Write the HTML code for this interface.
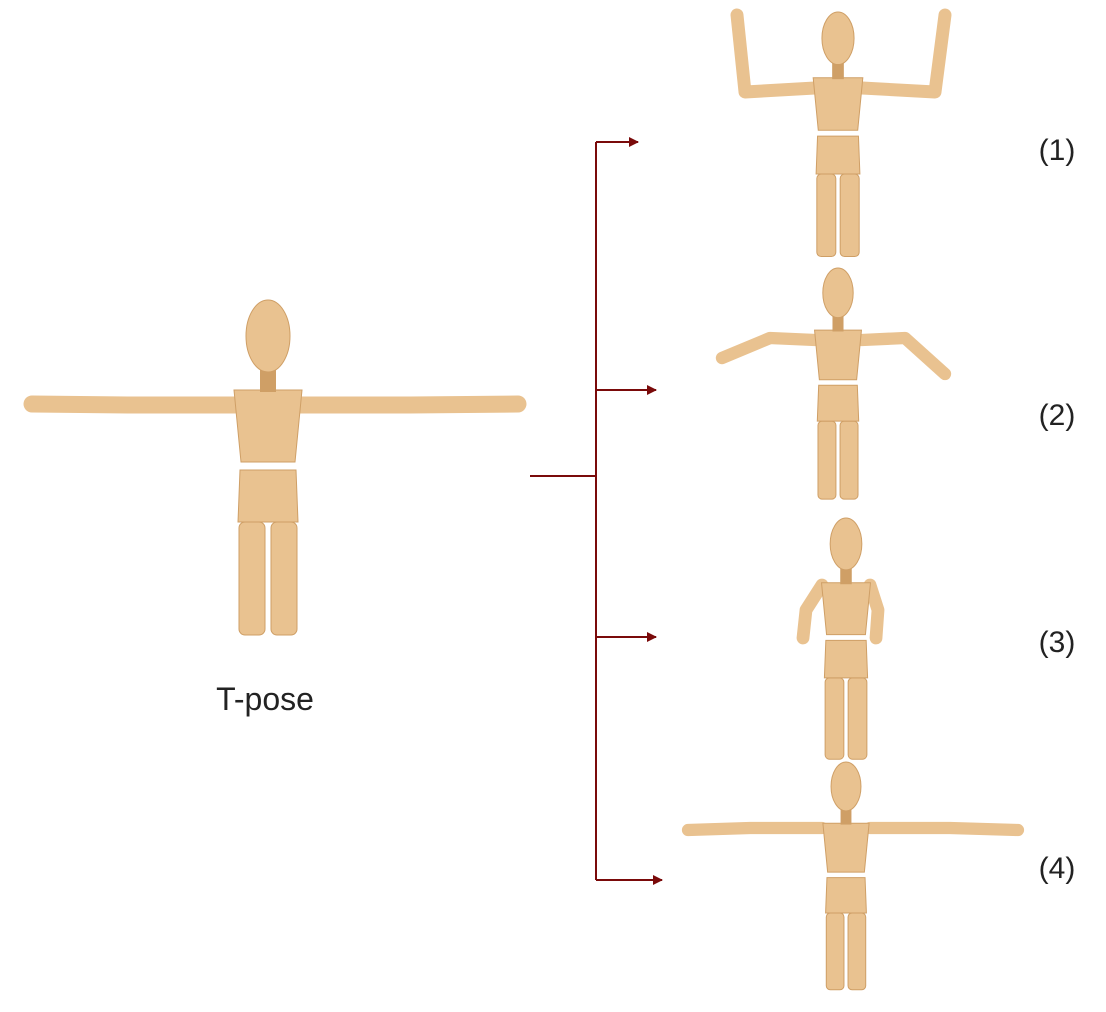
<!DOCTYPE html>
<html><head><meta charset="utf-8"><style>
html,body{margin:0;padding:0;background:#fff;}
svg{display:block;}
text{font-family:"Liberation Sans",sans-serif;fill:#222;}
</style></head><body>
<svg id="s" width="1106" height="1012" viewBox="0 0 1106 1012">
<defs>
<marker id="ah" markerWidth="10" markerHeight="10" refX="9" refY="5" orient="auto" markerUnits="userSpaceOnUse">
<path d="M0,0 L10,5 L0,10 z" fill="#7a0a0a"/></marker>
</defs>
<g stroke="#7a0a0a" stroke-width="2" fill="none">
<line x1="530" y1="476" x2="596" y2="476"/>
<line x1="596" y1="142" x2="596" y2="880"/>
<line x1="596" y1="142" x2="638" y2="142" marker-end="url(#ah)"/>
<line x1="596" y1="390" x2="656" y2="390" marker-end="url(#ah)"/>
<line x1="596" y1="637" x2="656" y2="637" marker-end="url(#ah)"/>
<line x1="596" y1="880" x2="662" y2="880" marker-end="url(#ah)"/>
</g>
<text x="265" y="710" font-size="32" text-anchor="middle">T-pose</text>
<text x="1057" y="160" font-size="30" text-anchor="middle">(1)</text>
<text x="1057" y="425" font-size="30" text-anchor="middle">(2)</text>
<text x="1057" y="652" font-size="30" text-anchor="middle">(3)</text>
<text x="1057" y="878" font-size="30" text-anchor="middle">(4)</text>
<g id="figs"></g>
</svg>
<script>
const NS="http://www.w3.org/2000/svg";
const figs=document.getElementById('figs');
function mk(tag,attrs,parent){const e=document.createElementNS(NS,tag);for(const k in attrs)e.setAttribute(k,attrs[k]);parent.appendChild(e);return e;}
const FILL="#e9c290",DARK="#cf9f66";
function figure(name,cx,top,s,arms){
  const g=mk('g',{},figs);
  
  
  const X=v=>cx+v*s, Y=v=>top+v*s;
  arms.forEach(a=>{
    const p=mk('polyline',{points:a.map(q=>q.join(',')).join(' '),fill:'none',stroke:FILL,'stroke-width':15*s+2,'stroke-linecap':'round','stroke-linejoin':'round'},g);
    
    
  });
  // legs
  [-16,16].forEach(o=>{
    const l=mk('rect',{x:X(o-13),y:Y(222),width:26*s,height:113*s,rx:6*s,fill:FILL,stroke:DARK,'stroke-width':1},g);
    
    
  });
  const pel=mk('path',{d:`M${X(-28)},${Y(170)} L${X(28)},${Y(170)} L${X(30)},${Y(222)} L${X(-30)},${Y(222)} Z`,fill:FILL,stroke:DARK,'stroke-width':1},g);
  
  
  const tor=mk('path',{d:`M${X(-34)},${Y(90)} L${X(34)},${Y(90)} L${X(27)},${Y(162)} L${X(-27)},${Y(162)} Z`,fill:FILL,stroke:DARK,'stroke-width':1},g);
  
  
  const nk=mk('rect',{x:X(-8),y:Y(66),width:16*s,height:26*s,fill:DARK},g);
  
  
  const hd=mk('ellipse',{cx:X(0),cy:Y(36),rx:22*s,ry:36*s,fill:FILL,stroke:DARK,'stroke-width':1},g);
  
  
}
figure('t-pose-figure',268,300,1,[[[235,405],[130,405],[32,404]],[[300,405],[410,405],[518,404]]]);
figure('pose-1-figure',838,12,0.73,[[[815,88],[745,92],[737,15]],[[862,88],[935,92],[945,15]]]);
figure('pose-2-figure',838,268,0.69,[[[815,340],[770,338],[722,358]],[[862,340],[905,338],[945,374]]]);
figure('pose-3-figure',846,518,0.72,[[[822,585],[806,610],[803,638]],[[870,585],[878,610],[876,638]]]);
figure('pose-4-figure',846,762,0.68,[[[822,828],[750,828],[688,830]],[[870,828],[950,828],[1018,830]]]);
</script>
</body></html>
